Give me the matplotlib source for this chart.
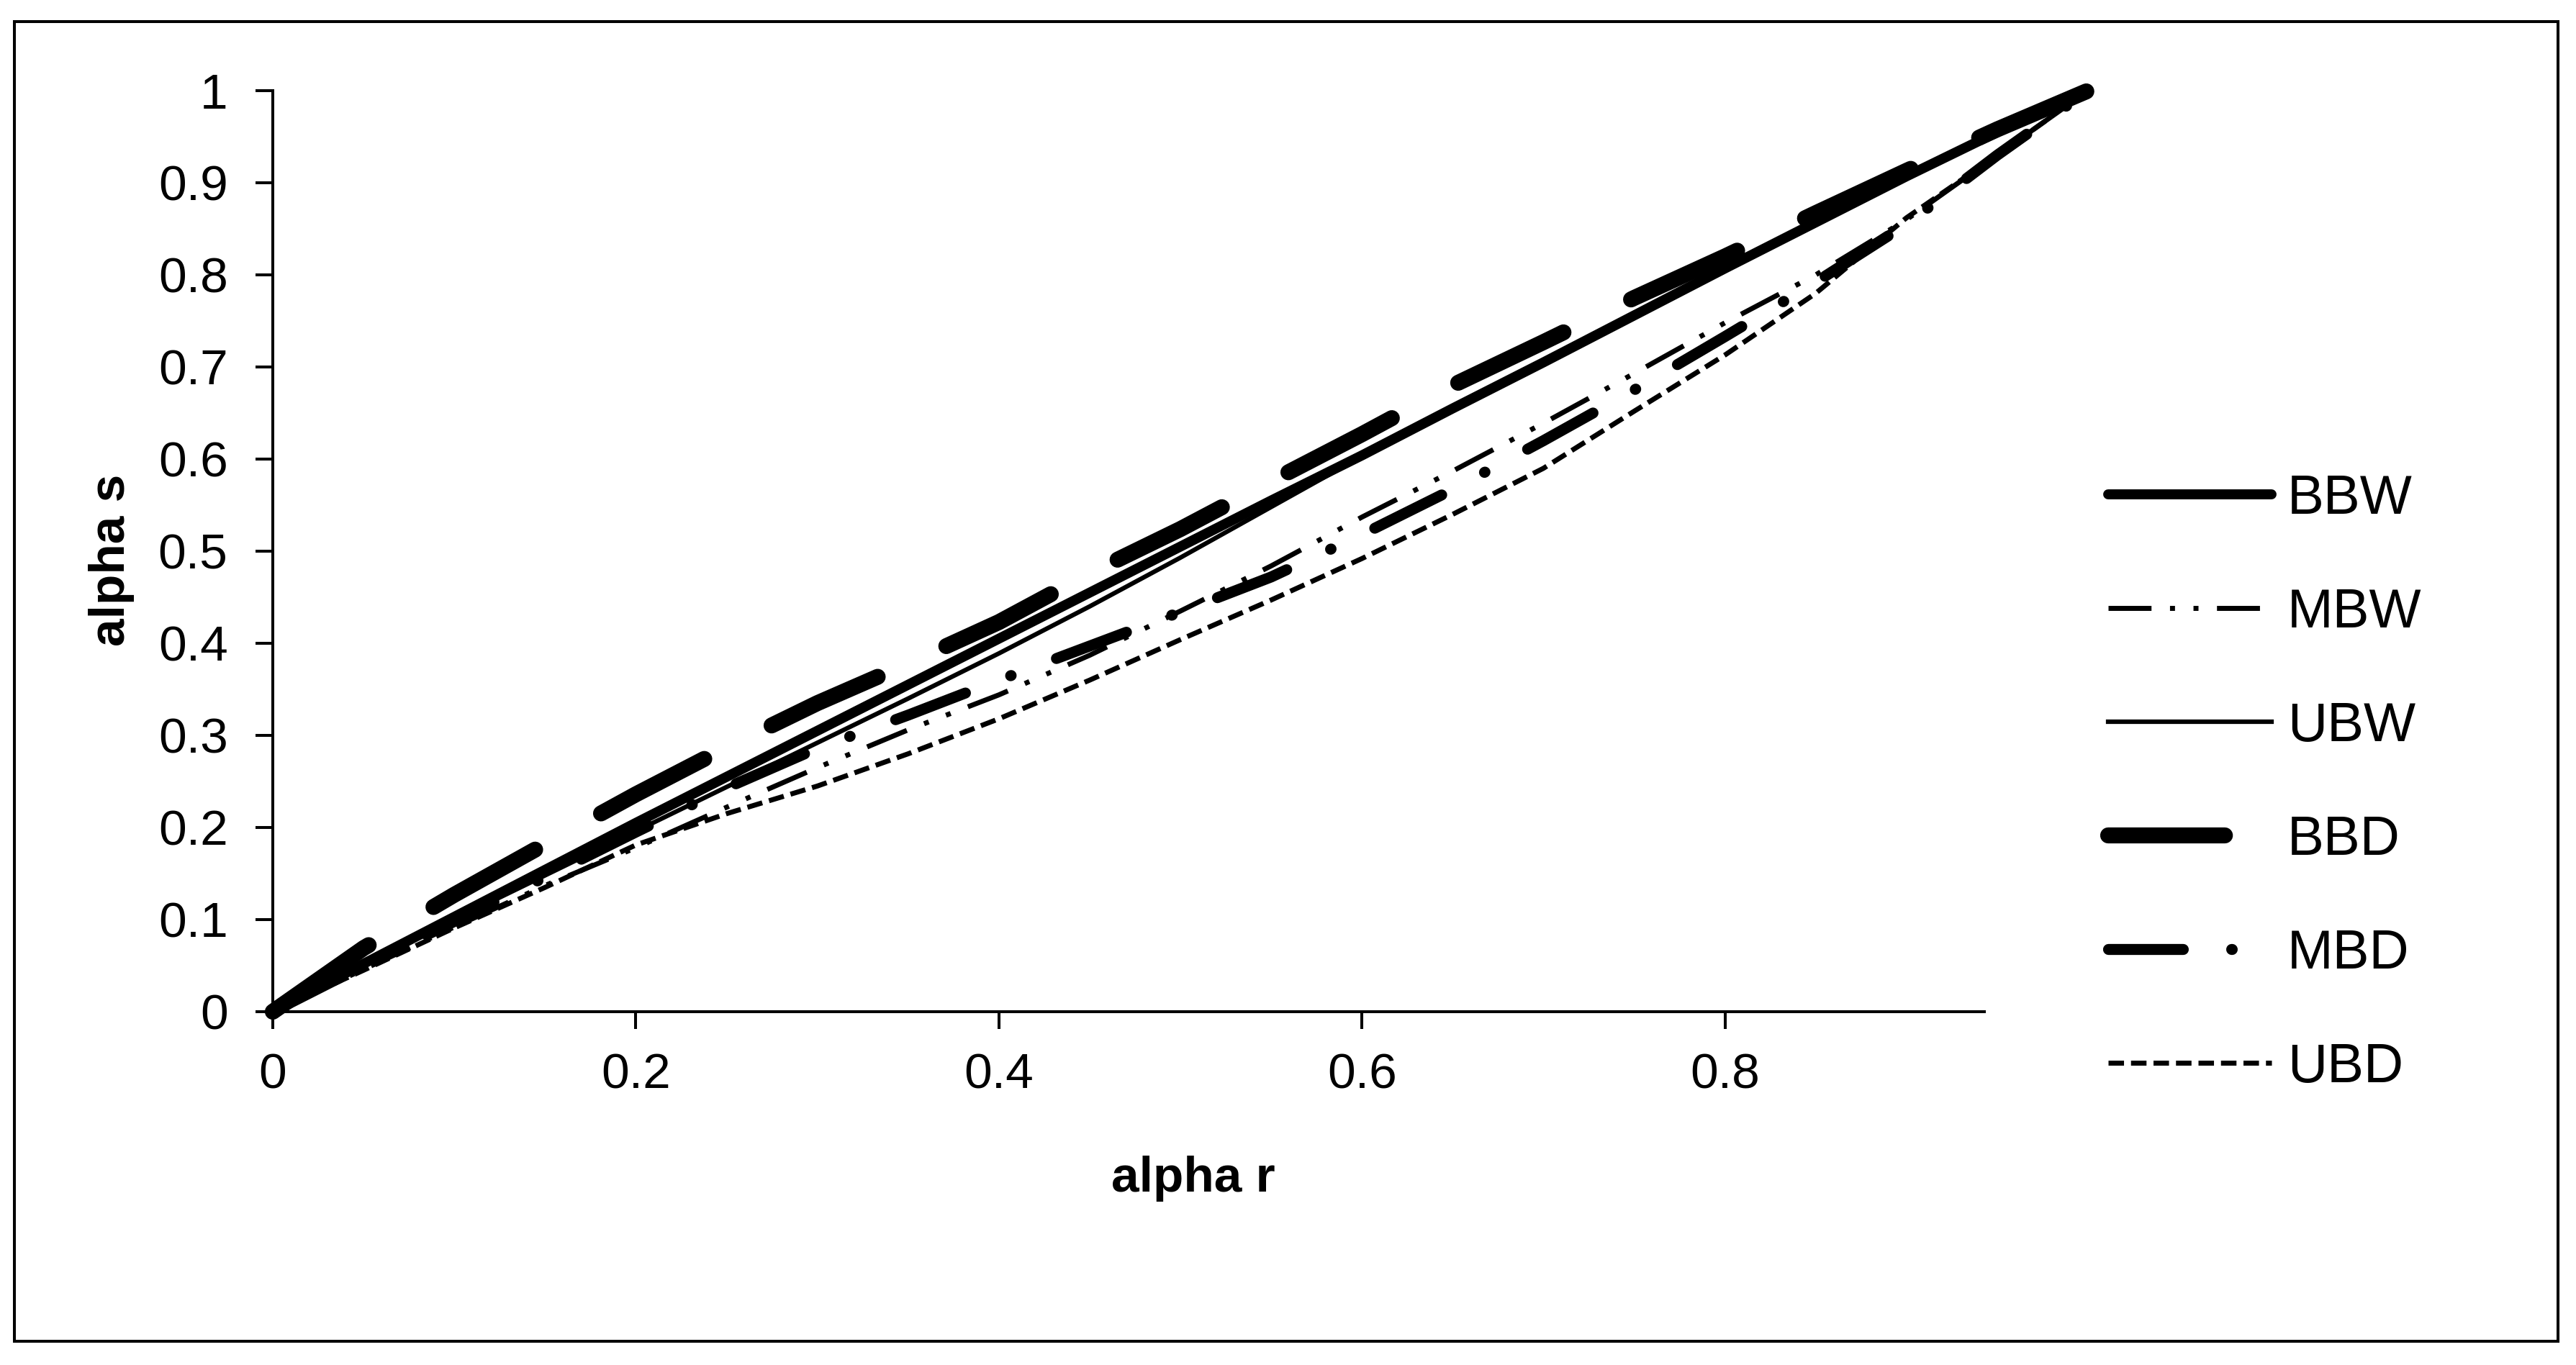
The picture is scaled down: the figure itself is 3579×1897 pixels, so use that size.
import matplotlib
matplotlib.use("Agg")
import matplotlib.pyplot as plt
from matplotlib.patches import Rectangle

plt.rcParams['font.family'] = ['Liberation Sans', 'DejaVu Sans']

'''data read off the chart'''
alpha_r = [0.0, 0.05, 0.1, 0.15, 0.2, 0.25, 0.3, 0.35, 0.4, 0.45, 0.5,
           0.55, 0.6, 0.65, 0.7, 0.75, 0.8, 0.85, 0.9, 0.95, 1.0]

bbw = [0, 0.052, 0.103, 0.154, 0.205, 0.255, 0.305, 0.355, 0.405, 0.455, 0.505,
       0.555, 0.604, 0.655, 0.705, 0.756, 0.807, 0.857, 0.907, 0.955, 1.0]
mbw = [0, 0.046, 0.092, 0.137, 0.178, 0.222, 0.265, 0.306, 0.344, 0.387, 0.435,
       0.484, 0.537, 0.587, 0.639, 0.693, 0.748, 0.800, 0.860, 0.930, 1.0]
ubw = [0, 0.050, 0.100, 0.148, 0.196, 0.244, 0.292, 0.340, 0.389, 0.440, 0.493,
       0.548, 0.603, 0.655, 0.705, 0.756, 0.807, 0.857, 0.907, 0.955, 1.0]
bbd = [0, 0.069, 0.127, 0.182, 0.236, 0.287, 0.335, 0.378, 0.423, 0.476, 0.524,
       0.576, 0.627, 0.680, 0.727, 0.775, 0.820, 0.867, 0.913, 0.958, 1.0]
mbd = [0, 0.050, 0.098, 0.146, 0.195, 0.243, 0.286, 0.322, 0.360, 0.397, 0.434,
       0.472, 0.518, 0.567, 0.620, 0.675, 0.733, 0.792, 0.855, 0.930, 1.0]
ubd = [0, 0.045, 0.091, 0.135, 0.181, 0.215, 0.245, 0.280, 0.318, 0.360, 0.404,
       0.447, 0.492, 0.540, 0.590, 0.652, 0.713, 0.780, 0.862, 0.930, 1.0]

x_ticks = [0, 0.2, 0.4, 0.6, 0.8]
x_tick_labels = ["0", "0.2", "0.4", "0.6", "0.8"]
y_ticks = [0, 0.1, 0.2, 0.3, 0.4, 0.5, 0.6, 0.7, 0.8, 0.9, 1.0]
y_tick_labels = ["0", "0.1", "0.2", "0.3", "0.4", "0.5", "0.6", "0.7", "0.8", "0.9", "1"]

'''figure'''
fig = plt.figure(figsize=(35.79, 18.97), dpi=100)
fig.patch.set_facecolor("white")
fig.patches.append(Rectangle((0.0056, 0.0174), 0.9874, 0.9668, transform=fig.transFigure,
                             fill=False, edgecolor="black", linewidth=2.9))

ax = fig.add_axes([0.10590, 0.25883, 0.70467, 0.67475])

ax.plot(alpha_r, bbw, color="black", lw=10, solid_capstyle="round", label="BBW", clip_on=False)
ax.plot(alpha_r, mbw, color="black", lw=5, dashes=(8.6, 3.7, 1, 3.7, 1, 3.7),
        dash_capstyle="butt", label="MBW", clip_on=False)
ax.plot(alpha_r, ubw, color="black", lw=4.5, label="UBW", clip_on=False)
ax.plot(alpha_r, bbd, color="black", lw=16, dashes=(7.3, 4.7),
        dash_capstyle="round", label="BBD", clip_on=False)
ax.plot(alpha_r, mbd, color="black", lw=11, dashes=(6.8, 4.4, 0.05, 4.4),
        dash_capstyle="round", label="MBD", clip_on=False)
ax.plot(alpha_r, ubd, color="black", lw=5, dashes=(3.1, 1.4),
        dash_capstyle="butt", label="UBD", clip_on=False)

ax.set_xlim(0, 1.0)
ax.set_ylim(0, 1.0)
ax.set_xticks(x_ticks)
ax.set_xticklabels(x_tick_labels)
ax.set_yticks(y_ticks)
ax.set_yticklabels(y_tick_labels)

ax.spines["top"].set_visible(False)
ax.spines["right"].set_visible(False)
ax.spines["left"].set_linewidth(2.9)
ax.spines["bottom"].set_linewidth(2.9)
ax.spines["bottom"].set_bounds(0, 0.943)
ax.tick_params(axis="both", direction="out", length=17, width=2.9, labelsize=50)
ax.tick_params(axis="y", pad=28)
ax.tick_params(axis="x", pad=24)
ax.set_facecolor("white")

ax.set_xlabel("alpha r", fontsize=50, fontweight="bold")
ax.set_ylabel("alpha s", fontsize=50, fontweight="bold")
ax.xaxis.set_label_coords(0.507, -0.156)
ax.yaxis.set_label_coords(-0.0761, 0.4906)

fig.legend(loc="center left", bbox_to_anchor=(0.8184, 0.4257), frameon=False,
           fontsize=55, handlelength=2.97, handletextpad=0.29, labelspacing=1.14,
           borderpad=0, borderaxespad=0)

fig.savefig("out.png", dpi=100, facecolor="white")
